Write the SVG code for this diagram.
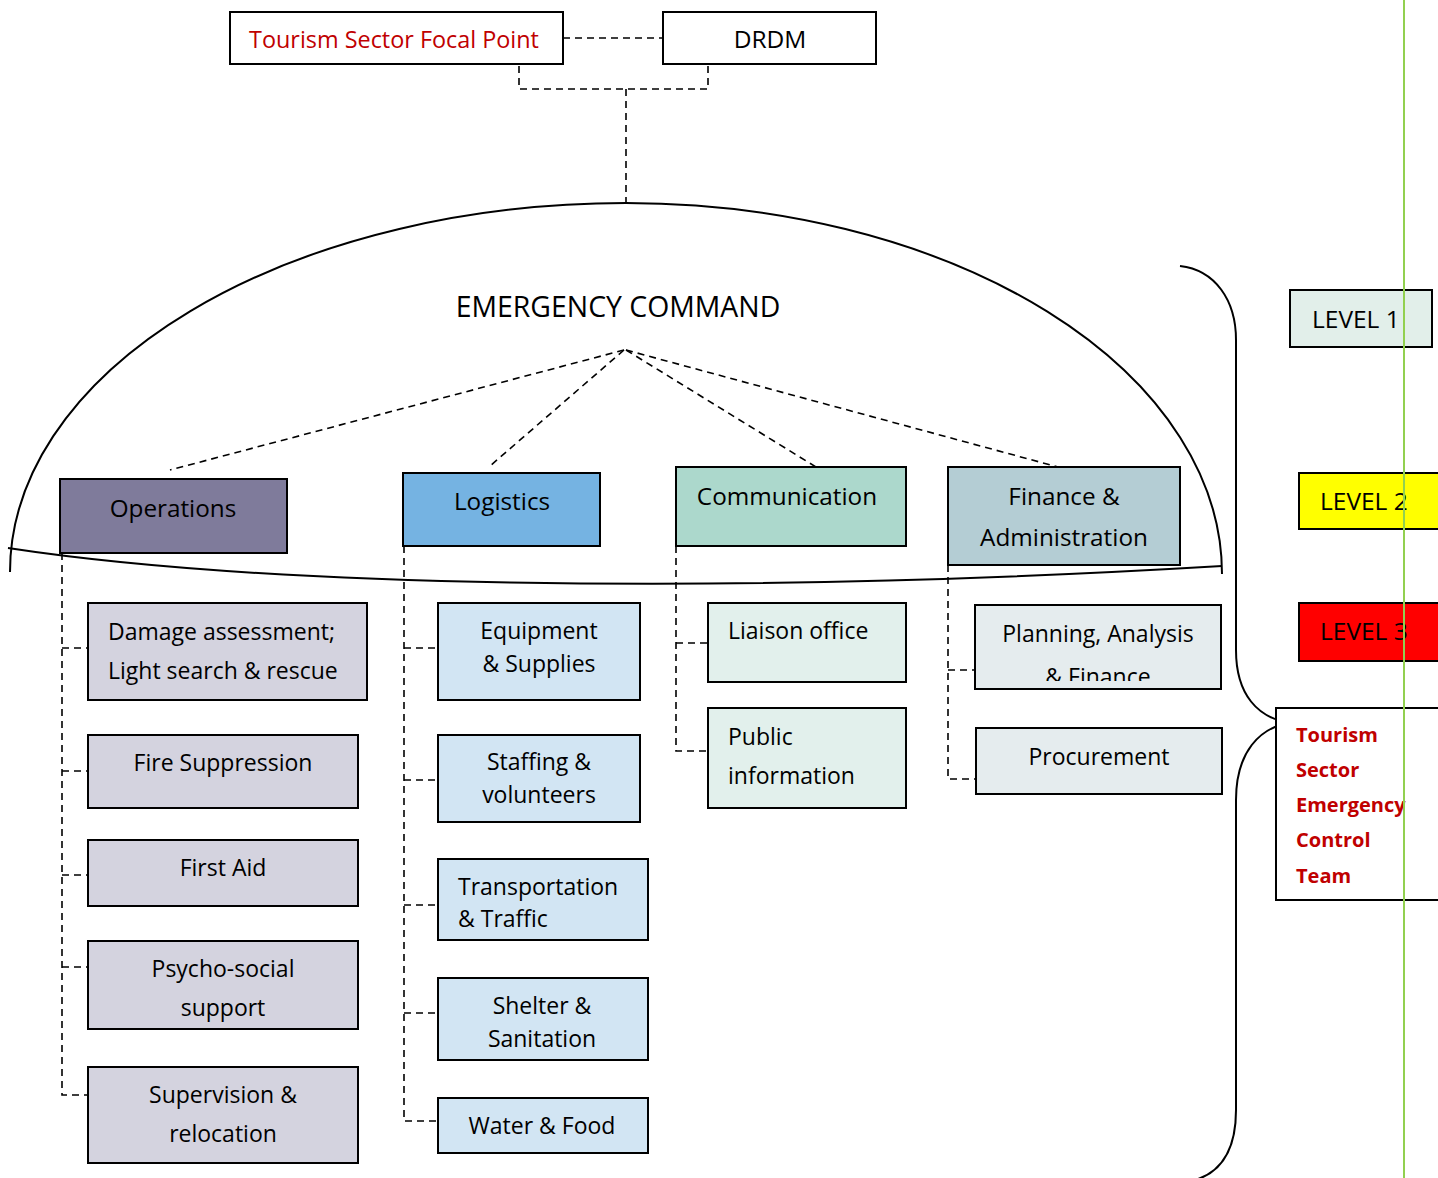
<svg xmlns="http://www.w3.org/2000/svg" width="1438" height="1178" viewBox="0 0 1438 1178">
<style>
text{font-family:"Open Sans","Liberation Sans",sans-serif;font-size:23px;fill:#000}
.box{stroke:#000;stroke-width:2}
.ctr{text-anchor:middle}
.red{fill:#c00000}
.dash{fill:none;stroke:#000;stroke-width:1.6;stroke-dasharray:7 5}
.solid{fill:none;stroke:#000;stroke-width:2}
.ops{fill:#d4d3df}
.log{fill:#d2e5f3}
.com{fill:#e2f0ec}
.fin{fill:#e5ecee}
.head{font-size:24.3px}
.lvl{font-size:24.5px}
.team{font-weight:bold;font-size:20px}
</style>
<defs>
<clipPath id="clipPlan"><rect x="975" y="605" width="246" height="76"/></clipPath>
</defs>
<rect width="1438" height="1178" fill="#fff"/>

<g id="connectors">
<line class="dash" x1="563" y1="38" x2="663" y2="38"/>
<polyline class="dash" points="519,66 519,89 708,89 708,66"/>
<line class="dash" x1="626" y1="89" x2="626" y2="203"/>
<line class="dash" x1="624" y1="350" x2="170" y2="470"/>
<line class="dash" x1="624" y1="350" x2="490" y2="466"/>
<line class="dash" x1="626" y1="350" x2="816" y2="467"/>
<line class="dash" x1="626" y1="350" x2="1058" y2="467"/>
<path class="dash" d="M62,553 V1095 H88 M62,648 H88 M62,771 H88 M62,875 H88 M62,967 H88"/>
<path class="dash" d="M404,546 V1121 H438 M404,648 H438 M404,780 H438 M404,905 H438 M404,1013 H438"/>
<path class="dash" d="M676,546 V751 H708 M676,643 H708"/>
<path class="dash" d="M948,565 V779 H976 M948,670 H975"/>
</g>

<g id="dome">
<path class="solid" d="M10,572 A616 369 0 0 1 626,203 A596 371 0 0 1 1222,574"/>
<path class="solid" d="M8,548 C250,585 700,597 1222,566"/>
<text x="618" y="317" class="ctr" style="font-size:28.4px">EMERGENCY COMMAND</text>
</g>

<g id="brace">
<path class="solid" d="M1180,266 C1215,270 1236,300 1236,340 L1236,650 C1236,695 1258,718 1290,723 C1260,727 1236,752 1236,800 L1236,1110 C1236,1150 1222,1172 1195,1180"/>
</g>

<g id="focal-point">
<rect class="box" x="230" y="12" width="333" height="52" fill="#fff"/>
<text x="394" y="48" class="ctr red" style="font-size:23.4px">Tourism Sector Focal Point</text>
</g>
<g id="drdm">
<rect class="box" x="663" y="12" width="213" height="52" fill="#fff"/>
<text x="770" y="48" class="ctr" style="font-size:24.5px">DRDM</text>
</g>

<g id="operations">
<rect class="box" x="60" y="479" width="227" height="74" fill="#7f7b9b"/>
<text x="173" y="517" class="ctr head">Operations</text>
</g>
<g id="logistics">
<rect class="box" x="403" y="473" width="197" height="73" fill="#75b3e2"/>
<text x="502" y="510" class="ctr head">Logistics</text>
</g>
<g id="communication">
<rect class="box" x="676" y="467" width="230" height="79" fill="#acd8cc"/>
<text x="787" y="505" class="ctr head">Communication</text>
</g>
<g id="finance">
<rect class="box" x="948" y="467" width="232" height="98" fill="#b4cdd4"/>
<text x="1064" y="505" class="ctr head">Finance &amp;</text>
<text x="1064" y="546" class="ctr head">Administration</text>
</g>

<g id="damage">
<rect class="box ops" x="88" y="603" width="279" height="97"/>
<text x="108" y="640">Damage assessment;</text>
<text x="108" y="679">Light search &amp; rescue</text>
</g>
<g id="fire">
<rect class="box ops" x="88" y="735" width="270" height="73"/>
<text x="223" y="771" class="ctr">Fire Suppression</text>
</g>
<g id="firstaid">
<rect class="box ops" x="88" y="840" width="270" height="66"/>
<text x="223" y="876" class="ctr">First Aid</text>
</g>
<g id="psycho">
<rect class="box ops" x="88" y="941" width="270" height="88"/>
<text x="223" y="977" class="ctr">Psycho-social</text>
<text x="223" y="1016" class="ctr">support</text>
</g>
<g id="supervision">
<rect class="box ops" x="88" y="1067" width="270" height="96"/>
<text x="223" y="1103" class="ctr">Supervision &amp;</text>
<text x="223" y="1142" class="ctr">relocation</text>
</g>

<g id="equipment">
<rect class="box log" x="438" y="603" width="202" height="97"/>
<text x="539" y="639" class="ctr">Equipment</text>
<text x="539" y="672" class="ctr">&amp; Supplies</text>
</g>
<g id="staffing">
<rect class="box log" x="438" y="735" width="202" height="87"/>
<text x="539" y="770" class="ctr">Staffing &amp;</text>
<text x="539" y="803" class="ctr">volunteers</text>
</g>
<g id="transport">
<rect class="box log" x="438" y="859" width="210" height="81"/>
<text x="458" y="895">Transportation</text>
<text x="458" y="927">&amp; Traffic</text>
</g>
<g id="shelter">
<rect class="box log" x="438" y="978" width="210" height="82"/>
<text x="542" y="1014" class="ctr">Shelter &amp;</text>
<text x="542" y="1047" class="ctr">Sanitation</text>
</g>
<g id="water">
<rect class="box log" x="438" y="1098" width="210" height="55"/>
<text x="542" y="1134" class="ctr">Water &amp; Food</text>
</g>

<g id="liaison">
<rect class="box com" x="708" y="603" width="198" height="79"/>
<text x="728" y="639">Liaison office</text>
</g>
<g id="public">
<rect class="box com" x="708" y="708" width="198" height="100"/>
<text x="728" y="745">Public</text>
<text x="728" y="784">information</text>
</g>

<g id="planning">
<rect class="box fin" x="975" y="605" width="246" height="84"/>
<text x="1098" y="642" class="ctr">Planning, Analysis</text>
<text x="1098" y="685" class="ctr" clip-path="url(#clipPlan)">&amp; Finance</text>
</g>
<g id="procurement">
<rect class="box fin" x="976" y="728" width="246" height="66"/>
<text x="1099" y="765" class="ctr">Procurement</text>
</g>

<g id="level1">
<rect class="box" x="1290" y="290" width="142" height="57" fill="#e2efea"/>
<text x="1312" y="328" class="lvl">LEVEL 1</text>
</g>
<g id="level2">
<rect class="box" x="1299" y="473" width="150" height="56" fill="#ffff00"/>
<text x="1320" y="510" class="lvl">LEVEL 2</text>
</g>
<g id="level3">
<rect class="box" x="1299" y="603" width="150" height="58" fill="#ff0000"/>
<text x="1320" y="640" class="lvl">LEVEL 3</text>
</g>
<g id="team">
<rect class="box" x="1276" y="708" width="180" height="192" fill="#fff"/>
<text x="1296" y="742" class="red team">Tourism</text>
<text x="1296" y="777" class="red team">Sector</text>
<text x="1296" y="812" class="red team">Emergency</text>
<text x="1296" y="847" class="red team">Control</text>
<text x="1296" y="883" class="red team">Team</text>
</g>

<line x1="1404" y1="0" x2="1404" y2="1178" stroke="#92d050" stroke-width="2"/>
</svg>
